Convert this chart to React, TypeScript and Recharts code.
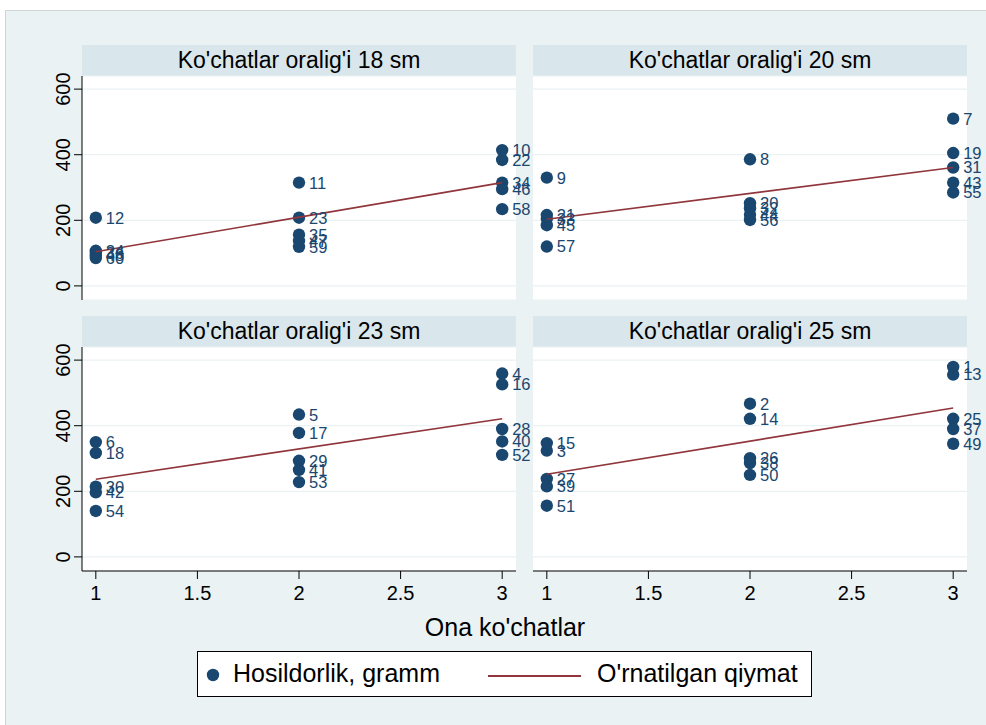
import React from 'react';
import { ScatterChart, Scatter, XAxis, YAxis, CartesianGrid, LabelList } from 'recharts';

// ---- data ----
const panelTitles = [
  "Ko'chatlar oralig'i 18 sm",
  "Ko'chatlar oralig'i 20 sm",
  "Ko'chatlar oralig'i 23 sm",
  "Ko'chatlar oralig'i 25 sm",
];
const pointX = [1, 1, 1, 1, 1, 2, 2, 2, 2, 2, 3, 3, 3, 3, 3];

const ids18 = [12, 24, 36, 48, 60, 11, 23, 35, 47, 59, 10, 22, 34, 46, 58];
const yield18 = [208, 107, 100, 93, 85, 315, 208, 156, 137, 119, 414, 384, 315, 295, 234];

const ids20 = [9, 21, 33, 45, 57, 8, 20, 32, 44, 56, 7, 19, 31, 43, 55];
const yield20 = [330, 216, 205, 185, 120, 386, 252, 237, 217, 201, 510, 405, 361, 315, 285];

const ids23 = [6, 18, 30, 42, 54, 5, 17, 29, 41, 53, 4, 16, 28, 40, 52];
const yield23 = [350, 317, 214, 197, 140, 434, 378, 293, 265, 228, 559, 526, 390, 352, 311];

const ids25 = [15, 3, 27, 39, 51, 2, 14, 26, 38, 50, 1, 13, 25, 37, 49];
const yield25 = [347, 324, 238, 215, 156, 467, 421, 301, 286, 250, 579, 556, 421, 390, 345];

const fitX = [1, 3];
const fit18 = [104, 315];
const fit20 = [203, 361];
const fit23 = [237, 421];
const fit25 = [252, 454];

const xTicks = [1, 1.5, 2, 2.5, 3];
const yTicks = [0, 200, 400, 600];

const seriesNames = ['Hosildorlik, gramm', "O'rnatilgan qiymat"];
const xTitle = "Ona ko'chatlar";

// ---- style ----
const FONT = "'Liberation Sans', Arial, sans-serif";
const BG = '#EAF2F3';
const STRIP = '#D9E6EB';
const NAVY = '#1A476F';
const MAROON = '#90353B';

const buildPoints = (ids: number[], vals: number[]) =>
  ids.map((id, i) => ({ x: pointX[i], y: vals[i], id }));
const buildFit = (vals: number[]) => fitX.map((x, i) => ({ x, y: vals[i] }));

const panels = [
  { title: panelTitles[0], points: buildPoints(ids18, yield18), fit: buildFit(fit18), left: 82, top: 76, showY: true, showX: false },
  { title: panelTitles[1], points: buildPoints(ids20, yield20), fit: buildFit(fit20), left: 533, top: 76, showY: false, showX: false },
  { title: panelTitles[2], points: buildPoints(ids23, yield23), fit: buildFit(fit23), left: 82, top: 347, showY: true, showX: true },
  { title: panelTitles[3], points: buildPoints(ids25, yield25), fit: buildFit(fit25), left: 533, top: 347, showY: false, showX: true },
];

const PLOT_W = 434;
const PLOT_H = 224;
const Y_AXIS_W = 82;
const X_AXIS_H = 45;
const STRIP_H = 31;
const RIGHT_PAD = 20;
const TOP_PAD = 20;

const YTick = (props: any) => {
  const { x, y, payload } = props;
  const cx = x - 9;
  return (
    <text
      x={cx}
      y={y}
      dy="0.36em"
      textAnchor="middle"
      transform={`rotate(-90, ${cx}, ${y})`}
      fill="#000"
      fontSize={20}
      fontFamily={FONT}
    >
      {payload.value}
    </text>
  );
};

const PointLabel = (props: any) => {
  const vb = props.viewBox && props.viewBox.width !== undefined ? props.viewBox : props;
  const cx = vb.x + (vb.width || 0) / 2;
  const cy = vb.y + (vb.height || 0) / 2;
  return (
    <text x={cx + 10} y={cy} dy="0.36em" fill={NAVY} fontSize={16.5} fontFamily={FONT}>
      {props.value}
    </text>
  );
};

const Dot = (props: any) => <circle cx={props.cx} cy={props.cy} r={6.2} fill={NAVY} />;
const NoDot = () => <g />;

const Panel = ({ p }: { p: any }) => {
  const w = PLOT_W + (p.showY ? Y_AXIS_W : 0) + RIGHT_PAD;
  const h = PLOT_H + (p.showX ? X_AXIS_H : 0) + TOP_PAD;
  return (
    <>
      <div
        style={{
          position: 'absolute',
          left: p.left,
          top: p.top - STRIP_H,
          width: PLOT_W,
          height: STRIP_H,
          background: STRIP,
          display: 'flex',
          alignItems: 'center',
          justifyContent: 'center',
          fontFamily: FONT,
          fontSize: 23,
          color: '#000',
        }}
      >
        {p.title}
      </div>
      <div style={{ position: 'absolute', left: p.left - (p.showY ? Y_AXIS_W : 0), top: p.top - TOP_PAD }}>
        <ScatterChart width={w} height={h} margin={{ top: TOP_PAD, right: RIGHT_PAD, bottom: 0, left: 0 }}>
          <CartesianGrid horizontal vertical={false} stroke={BG} strokeWidth={1.2} fill="#ffffff" fillOpacity={1} />
          <XAxis
            type="number"
            dataKey="x"
            domain={[0.932, 3.068]}
            ticks={xTicks}
            allowDataOverflow
            hide={!p.showX}
            height={X_AXIS_H}
            tickSize={8}
            tickMargin={7}
            stroke="#000"
            tick={{ fill: '#000', fontSize: 20, fontFamily: FONT }}
            interval={0}
          />
          <YAxis
            type="number"
            dataKey="y"
            domain={[-43, 640]}
            ticks={yTicks}
            allowDataOverflow
            hide={!p.showY}
            width={Y_AXIS_W}
            tickSize={8}
            tickMargin={2}
            stroke="#000"
            tick={<YTick />}
            interval={0}
          />
          <Scatter data={p.points} shape={<Dot />} isAnimationActive={false} name={seriesNames[0]}>
            <LabelList dataKey="id" content={<PointLabel />} />
          </Scatter>
          <Scatter
            data={p.fit}
            shape={<NoDot />}
            line={{ stroke: MAROON, strokeWidth: 1.6 }}
            isAnimationActive={false}
            name={seriesNames[1]}
          />
        </ScatterChart>
      </div>
    </>
  );
};

export default function App() {
  return (
    <div style={{ position: 'absolute', left: 0, top: 0, width: 986, height: 725, background: '#fff', overflow: 'hidden' }}>
      <div
        style={{
          position: 'absolute',
          left: 5,
          top: 10,
          width: 981,
          height: 715,
          background: BG,
          borderTop: '1px solid #cfd4d6',
          borderLeft: '1px solid #cfd4d6',
          boxSizing: 'border-box',
        }}
      />
      {panels.map((p, i) => (
        <Panel key={i} p={p} />
      ))}
      <div
        style={{
          position: 'absolute',
          left: 305,
          width: 400,
          top: 613,
          textAlign: 'center',
          fontFamily: FONT,
          fontSize: 25,
          color: '#000',
        }}
      >
        {xTitle}
      </div>
      <div
        style={{
          position: 'absolute',
          left: 197,
          top: 651,
          width: 615,
          height: 46,
          background: '#fff',
          border: '1px solid #000',
          boxSizing: 'border-box',
          fontFamily: FONT,
          fontSize: 25,
          color: '#000',
        }}
      >
        <svg style={{ position: 'absolute', left: 0, top: 0 }} width={613} height={44}>
          <circle cx={15} cy={23} r={6.2} fill={NAVY} />
          <line x1={290} x2={383} y1={24} y2={24} stroke={MAROON} strokeWidth={2} />
        </svg>
        <div style={{ position: 'absolute', left: 35, top: 7 }}>{seriesNames[0]}</div>
        <div style={{ position: 'absolute', left: 399, top: 7 }}>{seriesNames[1]}</div>
      </div>
    </div>
  );
}
